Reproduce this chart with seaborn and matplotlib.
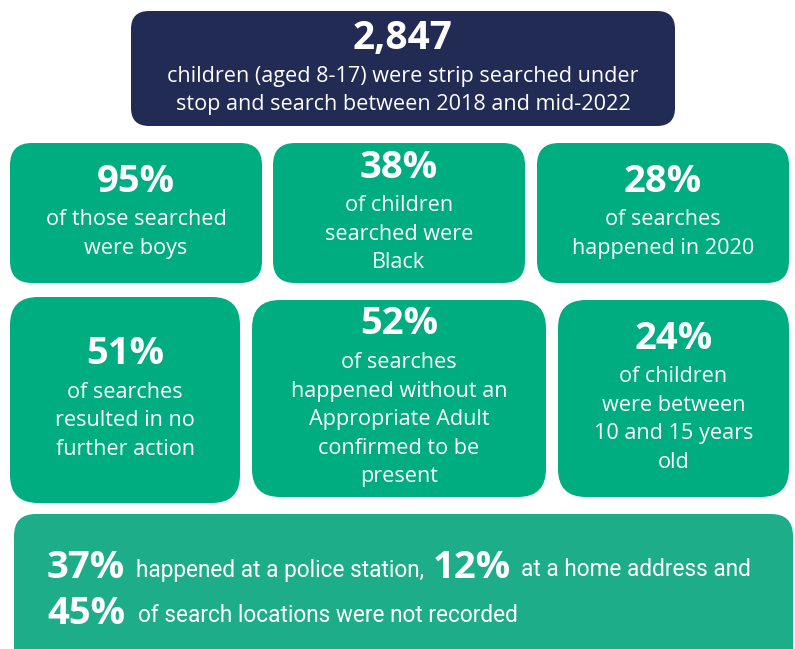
import matplotlib
matplotlib.use("Agg")
import matplotlib.pyplot as plt
from matplotlib.patches import FancyBboxPatch
from matplotlib import font_manager
import seaborn as sns

# ---- data ----
headline_value = "2,847"
headline_text = "children (aged 8-17) were strip searched under\nstop and search between 2018 and mid-2022"

stat_values = ["95%", "38%", "28%", "51%", "52%", "24%"]
stat_texts = [
    "of those searched\nwere boys",
    "of children\nsearched were\nBlack",
    "of searches\nhappened in 2020",
    "of searches\nresulted in no\nfurther action",
    "of searches\nhappened without an\nAppropriate Adult\nconfirmed to be\npresent",
    "of children\nwere between\n10 and 15 years\nold",
]

location_values = ["37%", "12%", "45%"]
location_texts = ["happened at a police station,", "at a home address and",
                  "of search locations were not recorded"]

# ---- layout (pixels): x, y, w, h, corner radius ----
headline_box = (131, 11, 544, 115, 18)
stat_boxes = [
    (10, 143, 252, 140, 22),
    (273, 143, 252, 140, 22),
    (537, 143, 252, 140, 22),
    (10, 297, 230, 206, 28),
    (252, 300, 294, 197, 28),
    (558, 300, 231, 197, 28),
]
bottom_box = (14, 514, 779, 160, 22)

NAVY = "#212b53"
GREEN = "#00ad81"
GREEN2 = "#1dad88"

sns.set_theme(style="white")
installed = {f.name for f in font_manager.fontManager.ttflist}
FONT = ["Open Sans", "DejaVu Sans"]
NARROW = ["Liberation Sans Narrow", "Open Sans", "DejaVu Sans"] \
    if "Liberation Sans Narrow" in installed else ["Roboto", "DejaVu Sans"]
plt.rcParams["font.family"] = FONT

fig = plt.figure(figsize=(7.95, 6.49), dpi=100)
ax = fig.add_axes([0, 0, 1, 1])
ax.set_xlim(0, 795)
ax.set_ylim(649, 0)
ax.axis("off")


def box(spec, color):
    x, y, w, h, r = spec
    ax.add_patch(FancyBboxPatch((x, y), w, h,
                                boxstyle=f"round,pad=0,rounding_size={r}",
                                fc=color, ec="none"))


def stat_block(spec, value, text, num_size, txt_size, gap=38, step=28.5, dy=2):
    x, y, w, h, r = spec
    lines = text.split("\n")
    cx, cy = x + w / 2, y + h / 2
    top = cy - (gap + (len(lines) - 1) * step) / 2
    ax.text(cx, top + dy, value, ha="center", va="center", color="white",
            fontsize=num_size, fontweight="bold")
    for i, ln in enumerate(lines):
        ax.text(cx, top + gap + i * step + 2, ln, ha="center", va="center",
                color="white", fontsize=txt_size)


box(headline_box, NAVY)
stat_block(headline_box, headline_value, headline_text, 28, 15.6, gap=40, step=28, dy=4)

for spec, v, t in zip(stat_boxes, stat_values, stat_texts):
    box(spec, GREEN)
    stat_block(spec, v, t, 27.5, 15.6)

box(bottom_box, GREEN2)
renderer = fig.canvas.get_renderer()


def chain(parts, y, x0=47, gaps=(11, 8, 11)):
    x = x0
    for i, (txt, big) in enumerate(parts):
        if big:
            t = ax.text(x, y, txt, ha="left", va="center", color="white",
                        fontsize=27.5, fontweight="bold", family=FONT)
        else:
            t = ax.text(x, y + 2, txt, ha="left", va="center", color="white",
                        fontsize=16.3, family=NARROW)
        x = t.get_window_extent(renderer).x1 + gaps[i % len(gaps)]


chain([(location_values[0], True), (location_texts[0], False),
       (location_values[1], True), (location_texts[1], False)], 568)
chain([(location_values[2], True), (location_texts[2], False)], 614, gaps=(13,))

fig.savefig("out.png", dpi=100)
